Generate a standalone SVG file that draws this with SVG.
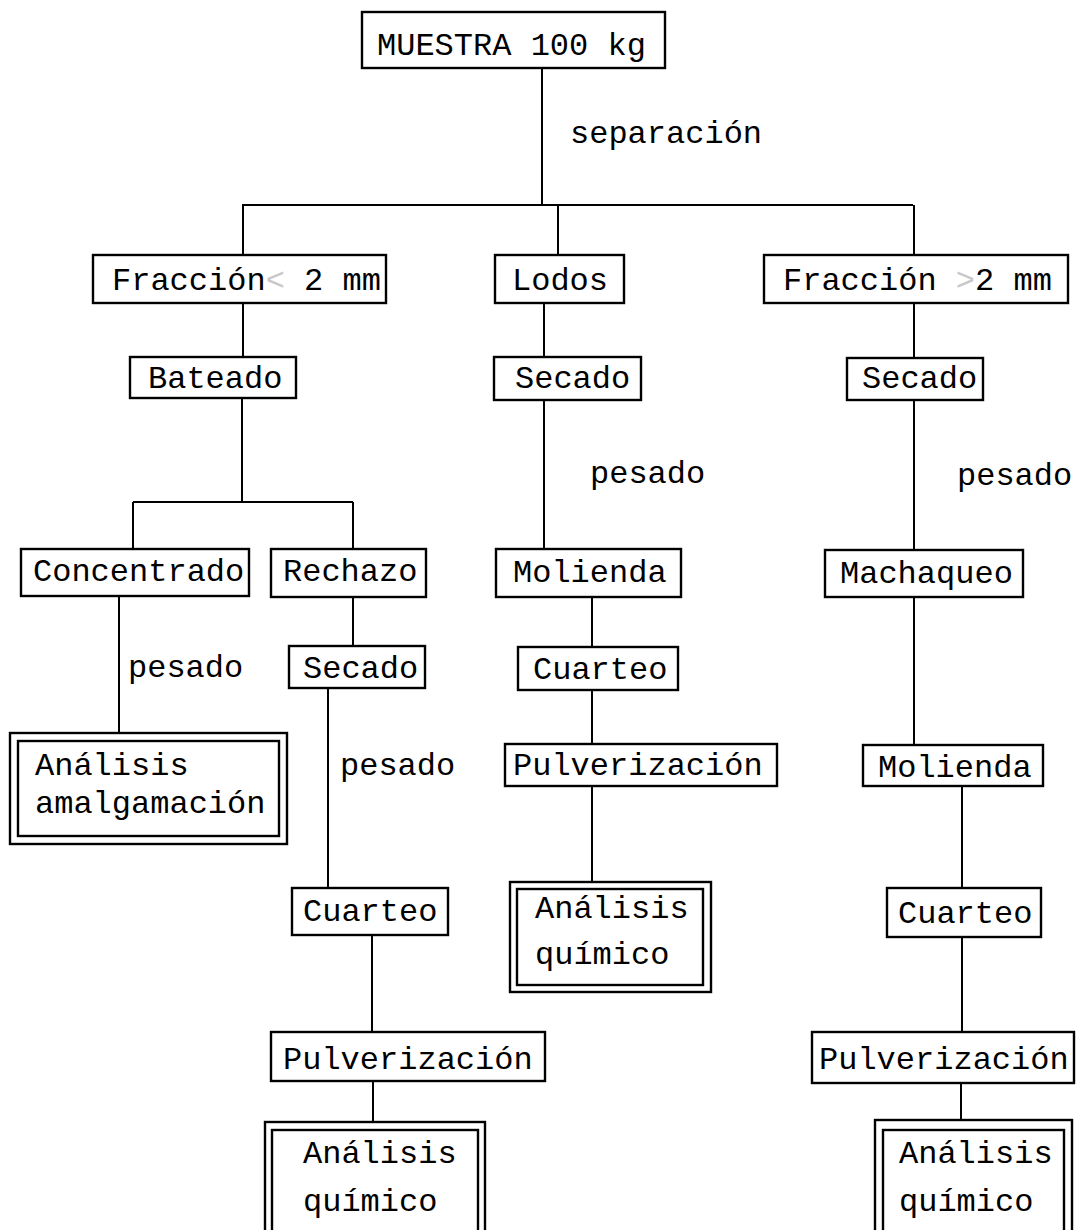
<svg xmlns="http://www.w3.org/2000/svg" width="1080" height="1230" viewBox="0 0 1080 1230">
<style>
.b{fill:#fff;stroke:#000;stroke-width:2.4}
.c{fill:none;stroke:#000;stroke-width:2}
text{font-family:"Liberation Mono","Courier New",monospace;font-size:32px;fill:#000}
.f{fill:#c8c8c8}
</style>
<rect width="1080" height="1230" fill="#fff"/>
<g id="connectors" class="c">
<path d="M542 68V205M242 205H913M243 205V255M558 205V255M914 205V255"/>
<path d="M243 303V357M544 303V357M914 303V358"/>
<path d="M242 398V502M133 502H353M133 502V549M353 502V549"/>
<path d="M119 596V733M353 597V646M328 688V888M372 935V1032M373 1081V1122"/>
<path d="M544 400V549M592 597V647M592 690V744M592 786V882"/>
<path d="M914 400V550M914 597V745M962 786V888M962 937V1032M961 1081V1120"/>
</g>
<g id="n-muestra"><rect class="b" x="362" y="12" width="303" height="56"/><text x="377" y="55">MUESTRA 100 kg</text></g>
<g id="l-separacion"><text x="570" y="143">separación</text></g>
<g id="n-fraccion-menor"><rect class="b" x="93" y="255" width="293" height="48"/><text x="112" y="290">Fracción<tspan class="f">&lt;</tspan> 2 mm</text></g>
<g id="n-lodos"><rect class="b" x="495" y="255" width="129" height="48"/><text x="512" y="290">Lodos</text></g>
<g id="n-fraccion-mayor"><rect class="b" x="764" y="255" width="304" height="48"/><text x="783" y="290">Fracción <tspan class="f">&gt;</tspan>2 mm</text></g>
<g id="n-bateado"><rect class="b" x="130" y="357" width="166" height="41"/><text x="148" y="388">Bateado</text></g>
<g id="n-secado-lodos"><rect class="b" x="494" y="357" width="147" height="43"/><text x="515" y="388">Secado</text></g>
<g id="n-secado-mayor"><rect class="b" x="847" y="358" width="136" height="42"/><text x="862" y="388">Secado</text></g>
<g id="l-pesado-lodos"><text x="590" y="483">pesado</text></g>
<g id="l-pesado-mayor"><text x="957" y="485">pesado</text></g>
<g id="n-concentrado"><rect class="b" x="21" y="549" width="228" height="47"/><text x="33" y="581">Concentrado</text></g>
<g id="n-rechazo"><rect class="b" x="271" y="549" width="155" height="48"/><text x="283" y="581">Rechazo</text></g>
<g id="n-molienda-lodos"><rect class="b" x="496" y="549" width="185" height="48"/><text x="513" y="582">Molienda</text></g>
<g id="n-machaqueo"><rect class="b" x="825" y="550" width="198" height="47"/><text x="840" y="583">Machaqueo</text></g>
<g id="l-pesado-concentrado"><text x="128" y="677">pesado</text></g>
<g id="n-secado-rechazo"><rect class="b" x="289" y="646" width="136" height="42"/><text x="303" y="678">Secado</text></g>
<g id="n-cuarteo-lodos"><rect class="b" x="518" y="647" width="160" height="43"/><text x="533" y="679">Cuarteo</text></g>
<g id="n-analisis-amalgamacion"><rect class="b" x="10" y="733" width="277" height="111"/><rect class="b" x="18" y="741" width="261" height="95"/><text x="35" y="775">Análisis</text><text x="35" y="813">amalgamación</text></g>
<g id="l-pesado-rechazo"><text x="340" y="775">pesado</text></g>
<g id="n-pulverizacion-lodos"><rect class="b" x="505" y="744" width="272" height="42"/><text x="513" y="775">Pulverización</text></g>
<g id="n-molienda-mayor"><rect class="b" x="863" y="745" width="180" height="41"/><text x="878" y="777">Molienda</text></g>
<g id="n-analisis-lodos"><rect class="b" x="510" y="882" width="201" height="110"/><rect class="b" x="517" y="889" width="186" height="96"/><text x="535" y="918">Análisis</text><text x="535" y="964">químico</text></g>
<g id="n-cuarteo-rechazo"><rect class="b" x="292" y="888" width="156" height="47"/><text x="303" y="921">Cuarteo</text></g>
<g id="n-cuarteo-mayor"><rect class="b" x="887" y="888" width="154" height="49"/><text x="898" y="923">Cuarteo</text></g>
<g id="n-pulverizacion-rechazo"><rect class="b" x="271" y="1032" width="274" height="49"/><text x="283" y="1069">Pulverización</text></g>
<g id="n-pulverizacion-mayor"><rect class="b" x="812" y="1032" width="262" height="51"/><text x="819" y="1069">Pulverización</text></g>
<g id="n-analisis-rechazo"><rect class="b" x="265" y="1122" width="220" height="120"/><rect class="b" x="272" y="1130" width="206" height="105"/><text x="303" y="1163">Análisis</text><text x="303" y="1211">químico</text></g>
<g id="n-analisis-mayor"><rect class="b" x="875" y="1120" width="197" height="122"/><rect class="b" x="883" y="1130" width="181" height="105"/><text x="899" y="1163">Análisis</text><text x="899" y="1211">químico</text></g>
</svg>
